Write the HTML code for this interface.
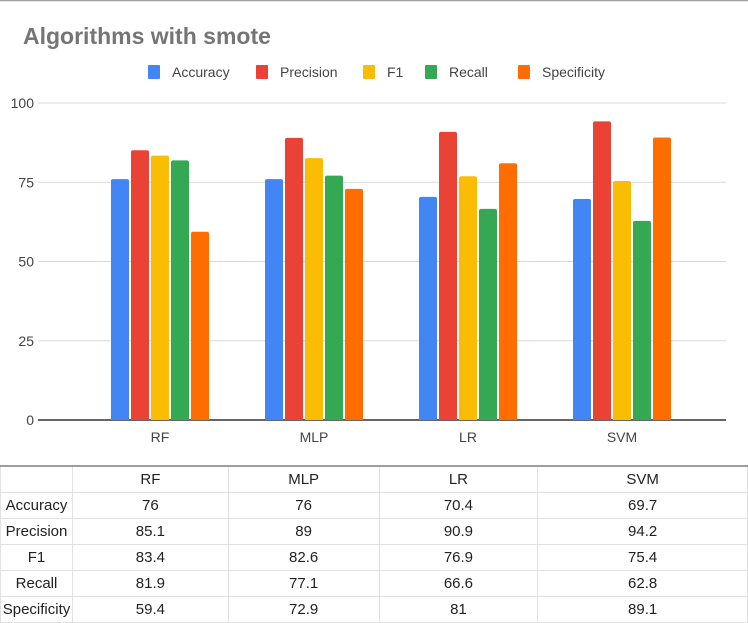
<!DOCTYPE html>
<html><head><meta charset="utf-8">
<style>
html,body{margin:0;padding:0;background:#fff;}
body{width:748px;height:622px;overflow:hidden;position:relative;font-family:"Liberation Sans",Arial,sans-serif;}
svg{position:absolute;left:0;top:0;}
table{position:absolute;left:0;top:465px;border-collapse:collapse;font-size:15px;color:#222;}
td{border:1px solid #e2e2e2;height:25px;padding:0;text-align:center;}
</style></head>
<body>
<svg id="chart" width="748" height="465">
<line x1="0" y1="0.5" x2="748" y2="0.5" stroke="#9e9e9e" stroke-width="1.5"/>
<text x="23" y="44" font-size="23" font-weight="bold" fill="#757575" font-family="Liberation Sans, Arial, sans-serif">Algorithms with smote</text>
<g id="grid"></g><g id="bars"></g><g id="legend"></g>
</svg>
<table id="tbl"></table>
<script>
const categories=["RF","MLP","LR","SVM"];
const seriesNames=["Accuracy","Precision","F1","Recall","Specificity"];
const accuracy=[76,76,70.4,69.7];
const precision=[85.1,89,90.9,94.2];
const f1=[83.4,82.6,76.9,75.4];
const recall=[81.9,77.1,66.6,62.8];
const specificity=[59.4,72.9,81,89.1];
const yTicks=[0,25,50,75,100];
const series=[accuracy,precision,f1,recall,specificity];
const colors=["#4285f4","#ea4335","#fbbc04","#34a853","#ff6d01"];
const NS="http://www.w3.org/2000/svg";
const x0=40,x1=726,yBase=420,yTop=103,yMax=100;
const bandStart=83,groupW=154;
const y=v=>yBase-(v/yMax)*(yBase-yTop);
const cx=i=>bandStart+groupW*(i+0.5);
function mk(tag,attrs,parent){const e=document.createElementNS(NS,tag);for(const k in attrs)e.setAttribute(k,attrs[k]);parent.appendChild(e);return e;}
const grid=document.getElementById('grid');
yTicks.forEach(t=>{
  const l=mk('line',{x1:x0-2,x2:x1,y1:y(t),y2:y(t),stroke:t===0?'#333':'#d9d9d9','stroke-width':t===0?1.5:1},grid);
  
  
  const tx=mk('text',{x:x0-6,y:y(t)+5,'text-anchor':'end','font-size':14,fill:'#444'},grid);
  tx.textContent=t;
  
  
});
const bars=document.getElementById('bars');
const bw=18,step=20;
categories.forEach((c,i)=>{
  series.forEach((s,j)=>{
    const bx=cx(i)-2*step-bw/2+j*step;
    const top=y(s[i]);
    const p=mk('path',{d:`M${bx},${yBase} V${top+2} Q${bx},${top} ${bx+2},${top} H${bx+bw-2} Q${bx+bw},${top} ${bx+bw},${top+2} V${yBase} Z`,fill:colors[j]},bars);
    
    
  });
  const t=mk('text',{x:cx(i),y:442,'text-anchor':'middle','font-size':14,fill:'#444'},bars);
  t.textContent=c;
  
  
});
const legend=document.getElementById('legend');
const legendX=[148,256,363,425,518];
seriesNames.forEach((n,j)=>{
  const g=mk('g',{},legend);
  
  
  mk('rect',{x:legendX[j],y:65,width:12,height:14,rx:1,fill:colors[j]},g);
  const t=mk('text',{x:legendX[j]+24,y:77,'font-size':14,fill:'#444'},g);
  t.textContent=n;
});
const tbl=document.getElementById('tbl');
const colW=[72,156,151,159,210];
let html='<tr><td style="width:'+(colW[0]-1)+'px"></td>';
categories.forEach((c,i)=>{html+='<td style="width:'+(colW[i+1]-1)+'px">'+c+'</td>';});
html+='</tr>';
seriesNames.forEach((n,j)=>{
  html+='<tr><td>'+n+'</td>';
  series[j].forEach(v=>{html+='<td>'+v+'</td>';});
  html+='</tr>';
});
tbl.innerHTML=html;
tbl.style.borderTop='2px solid #9e9e9e';
</script>
</body></html>
